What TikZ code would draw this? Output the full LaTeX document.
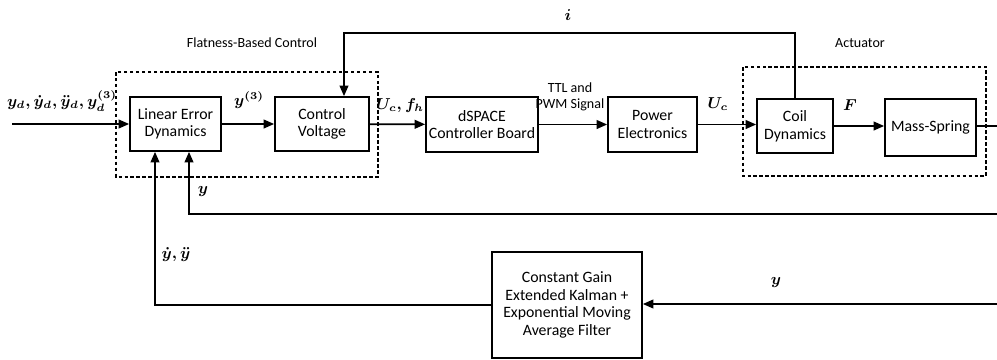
\documentclass[tikz,border=0pt]{standalone}
\usepackage{fontspec}
\setmainfont{Carlito}
\usepackage{amsmath}
\usetikzlibrary{arrows.meta, positioning}

\begin{document}
\begin{tikzpicture}[x=0.02cm, y=-0.02cm, line width=1pt,
    every node/.style={font=\fontsize{9}{10}\selectfont},
    block/.style={draw, line width=1pt, align=center, inner sep=1pt},
    grp/.style={line width=1pt, dash pattern=on 2pt off 1.4pt},
    grpname/.style={font=\fontsize{8}{9}\selectfont},
    sig/.style={-{Triangle[length=6pt,width=5pt]}},
    lab/.style={font=\fontsize{9}{11}\selectfont\boldmath, inner sep=1pt}]
      \useasboundingbox (0,0) rectangle (997,359);
      % flatness-based control
      \draw[grp] (116,72) rectangle (378,177);
      \node[grpname] (fbcname) at (252,43) {Flatness-Based Control};
      \node[block, minimum width=1.82cm, minimum height=1.08cm] (led) at (175.5,124) {Linear Error\\Dynamics};
      \node[block, minimum width=1.88cm, minimum height=1.08cm] (cv) at (322,124) {Control\\Voltage};
      % hardware
      \node[block, minimum width=2.24cm, minimum height=1.1cm] (dsp) at (482,124.5) {dSPACE\\Controller Board};
      \node[block, minimum width=1.78cm, minimum height=1.1cm] (pe) at (652.5,124.5) {Power\\Electronics};
      % actuator
      \draw[grp] (743,67) rectangle (986,176);
      \node[grpname] (actname) at (860,43) {Actuator};
      \node[block, minimum width=1.52cm, minimum height=1.08cm] (coil) at (795,126) {Coil\\Dynamics};
      \node[block, minimum width=1.82cm, minimum height=1.14cm] (ms) at (930.5,127.5) {Mass-Spring};
      % observer
      \node[block, minimum width=3cm, minimum height=2.12cm] (filt) at (567,305) {Constant Gain\\Extended Kalman +\\Exponential Moving\\Average Filter};
      % free ends
      \coordinate (in) at (12,124);
      \coordinate (out) at (997,126);
      \coordinate (ymeas) at (997,214);
      \coordinate (yfilt) at (997,304);
      \coordinate (itop) at (344,33);
      % forward path
      \draw[sig] (in) -- (led.west);
      \draw[sig] (led) -- (cv);
      \draw[sig] (cv) -- (dsp);
      \draw[sig] (dsp) -- (pe);
      \draw[sig] (pe.east) -- (coil.west |- pe.east);
      \draw[sig] (coil.east) -- (ms.west |- coil.east);
      \draw (ms.east |- out) -- (out);
      % feedback
      \draw[sig] (coil.north) |- (itop) -- (itop |- cv.north);
      \draw[sig] (ymeas) -| ([xshift=13.5*0.02cm]led.south);
      \draw[sig] (yfilt) -- (filt.east |- yfilt);
      \draw[sig] (filt.west) -| ([xshift=-20.5*0.02cm]led.south);
      % labels
      \node[lab] (lin) at (62,101) {$y_d,\dot y_d,\ddot y_d,y_d^{(3)}$};
      \node[lab] (ly3) at (249,100) {$y^{(3)}$};
      \node[lab] (luc) at (400,106) {$U_c,f_h$};
      \node[align=center, font=\fontsize{8}{9}\selectfont] (lttl) at (570,97) {TTL and\\PWM Signal};
      \node[lab] (luc2) at (718,104) {$U_c$};
      \node[lab] (lf) at (850,105) {$F$};
      \node[lab] (li) at (568,15) {$i$};
      \node[lab] (ly) at (203,192) {$y$};
      \node[lab] (ldy) at (176,255) {$\dot y,\ddot y$};
      \node[lab] (ly2) at (776,283) {$y$};
\end{tikzpicture}
\end{document}
